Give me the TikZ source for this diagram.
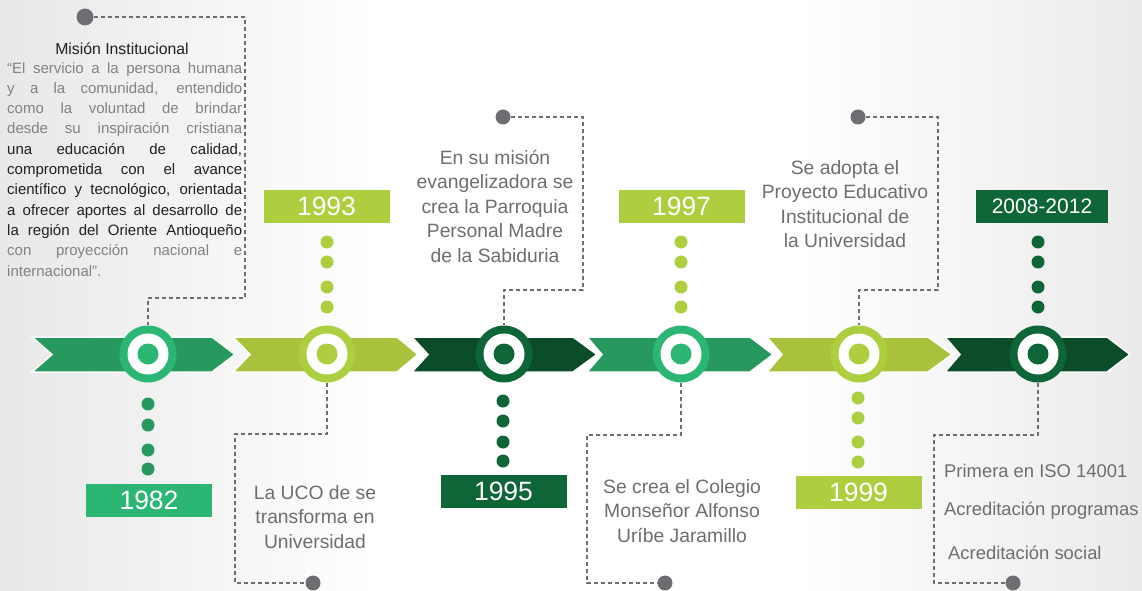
\documentclass[tikz,border=0pt]{standalone}
\usepackage{fontspec}
\setmainfont{Liberation Sans}
\definecolor{gA}{HTML}{27995F}
\definecolor{gAc}{HTML}{2BB673}
\definecolor{lA}{HTML}{A9C23B}
\definecolor{lAc}{HTML}{ADCE3F}
\definecolor{dA}{HTML}{0C4D29}
\definecolor{dAc}{HTML}{0E6638}
\definecolor{dotgray}{HTML}{6D6E71}
\definecolor{txtgray}{HTML}{6D6E71}
\definecolor{lightgray}{HTML}{808285}
\definecolor{darktxt}{HTML}{231F20}
\begin{document}
\begin{tikzpicture}[x=1pt,y=-1pt,
  dl/.style={draw=dotgray, dash pattern=on 4pt off 3pt, line width=1.8pt},
  gdot/.style={circle, fill=dotgray, minimum size=15pt, inner sep=0pt},
  ring/.style={circle, minimum size=57pt, inner sep=0pt},
  ybox/.style={minimum width=126pt, minimum height=33pt, inner sep=0pt, text=white, font=\fontsize{26.5}{26.5}\selectfont},
  mtxt/.style={align=center, text=txtgray, inner sep=0pt, font=\fontsize{19.3}{24.5}\selectfont},
  rtxt/.style={anchor=west, text=txtgray, inner sep=0pt, font=\fontsize{18.4}{20}\selectfont},
  chev/.style={draw=white, line width=1.5pt}
  ]
\useasboundingbox (0,0) rectangle (1142,591);
% background
\fill[white] (0,0) rectangle (1142,591);
\shade[left color=black!9, right color=white] (0,0) rectangle (380,591);
\shade[left color=white, right color=black!8] (800,0) rectangle (1142,591);

% chevrons
\newcommand{\chevron}[5]{%
  \fill[#5, chev] (#1,337) -- (#3,337) -- (#4,354.5) -- (#3,372) -- (#1,372) -- (#2,354.5) -- cycle;}
\chevron{32}{52}{212}{235}{gA}
\chevron{233}{250}{397}{418}{lA}
\chevron{412}{428}{573}{597}{dA}
\chevron{587}{602}{750}{773}{gA}
\chevron{767}{782}{928}{952}{lA}
\chevron{945}{960}{1107}{1130}{dA}

% rings
\node[ring, fill=gAc] (c1) at (148,354) {};
\node[ring, fill=lAc] (c2) at (327,354) {};
\node[ring, fill=dAc] (c3) at (504,354) {};
\node[ring, fill=gAc] (c4) at (681,354) {};
\node[ring, fill=lAc] (c5) at (859,354) {};
\node[ring, fill=dAc] (c6) at (1038,354) {};
\foreach \c/\col in {c1/gAc,c2/lAc,c3/dAc,c4/gAc,c5/lAc,c6/dAc}{
  \fill[white] (\c.center) circle (20.5pt);
  \fill[\col] (\c.center) circle (10.5pt);
}

% small dots
\foreach \y in {404,425,450,469} \fill[gA] (148,\y) circle (6.5pt);
\foreach \y in {242,262,287,307} \fill[lAc] (327,\y) circle (6.5pt);
\foreach \y in {401,421,442,461} \fill[dAc] (503,\y) circle (6.5pt);
\foreach \y in {242,262,287,307} \fill[lAc] (681,\y) circle (6.5pt);
\foreach \y in {398,418,442,462} \fill[lAc] (858,\y) circle (6.5pt);
\foreach \y in {242,262,287,307} \fill[dAc] (1038,\y) circle (6.5pt);

% year boxes
\node[ybox, fill=gAc] (y1) at (149,500) {1982};
\node[ybox, fill=lAc] (y2) at (326.5,206.5) {1993};
\node[ybox, fill=dAc] (y3) at (503.5,491.5) {1995};
\node[ybox, fill=lAc] (y4) at (681.5,206.5) {1997};
\node[ybox, fill=lAc] (y5) at (858.5,492) {1999};
\node[ybox, fill=dAc, minimum width=132pt, font=\fontsize{21}{21}\selectfont] (y6) at (1042,206.5) {2008-2012};

% gray dots
\node[gdot, minimum size=17pt] (g1) at (85,17) {};
\node[gdot] (g2) at (313,583) {};
\node[gdot] (g3) at (503,117) {};
\node[gdot] (g4) at (665,583) {};
\node[gdot] (g5) at (858,117) {};
\node[gdot] (g6) at (1013,583) {};

% connectors
\draw[dl] (g1.east) -| (245,298) -| (c1.north);
\draw[dl] (c2.south) |- (235,434) |- (g2.west);
\draw[dl] (g3.east) -| (583,290) -| (c3.north);
\draw[dl] (c4.south) |- (587,435) |- (g4.west);
\draw[dl] (g5.east) -| (938,290) -| (c5.north);
\draw[dl] (c6.south) |- (934,435) |- (g6.west);

% mission text
\node[text=darktxt, inner sep=0pt, font=\fontsize{15.8}{17}\selectfont] (mt) at (122,49) {Misión Institucional};
\node[anchor=north west, inner sep=0pt, align=left, font=\fontsize{15}{20.3}\selectfont] (mb) at (7,62) {%
\color{lightgray}\makebox[235pt][s]{“El servicio a la persona humana}\\
\color{lightgray}\makebox[235pt][s]{y a la comunidad, entendido}\\
\color{lightgray}\makebox[235pt][s]{como la voluntad de brindar}\\
\color{lightgray}\makebox[235pt][s]{desde su inspiración cristiana}\\
\color{darktxt}\makebox[235pt][s]{una educación de calidad,}\\
\color{darktxt}\makebox[235pt][s]{comprometida con el avance}\\
\color{darktxt}\makebox[235pt][s]{científico y tecnológico, orientada}\\
\color{darktxt}\makebox[235pt][s]{a ofrecer aportes al desarrollo de}\\
\color{darktxt}\makebox[235pt][s]{la región del Oriente Antioqueño}\\
\color{lightgray}\makebox[235pt][s]{con proyección nacional e}\\
\color{lightgray}internacional”.};

% milestone texts
\node[mtxt] (t2) at (315,517) {La UCO de se\\transforma en\\Universidad};
\node[mtxt] (t3) at (495,206) {En su misión\\evangelizadora se\\crea la Parroquia\\Personal Madre\\de la Sabiduria};
\node[mtxt] (t4) at (682,511) {Se crea el Colegio\\Monseñor Alfonso\\Uríbe Jaramillo};
\node[mtxt] (t5) at (845,204) {Se adopta el\\Proyecto Educativo\\Institucional de\\la Universidad};
\node[rtxt] (r1) at (944,471) {Primera en ISO 14001};
\node[rtxt] (r2) at (944,511) {Acreditación programas};
\node[rtxt] (r3) at (948,553) {Acreditación social};
\end{tikzpicture}
\end{document}
